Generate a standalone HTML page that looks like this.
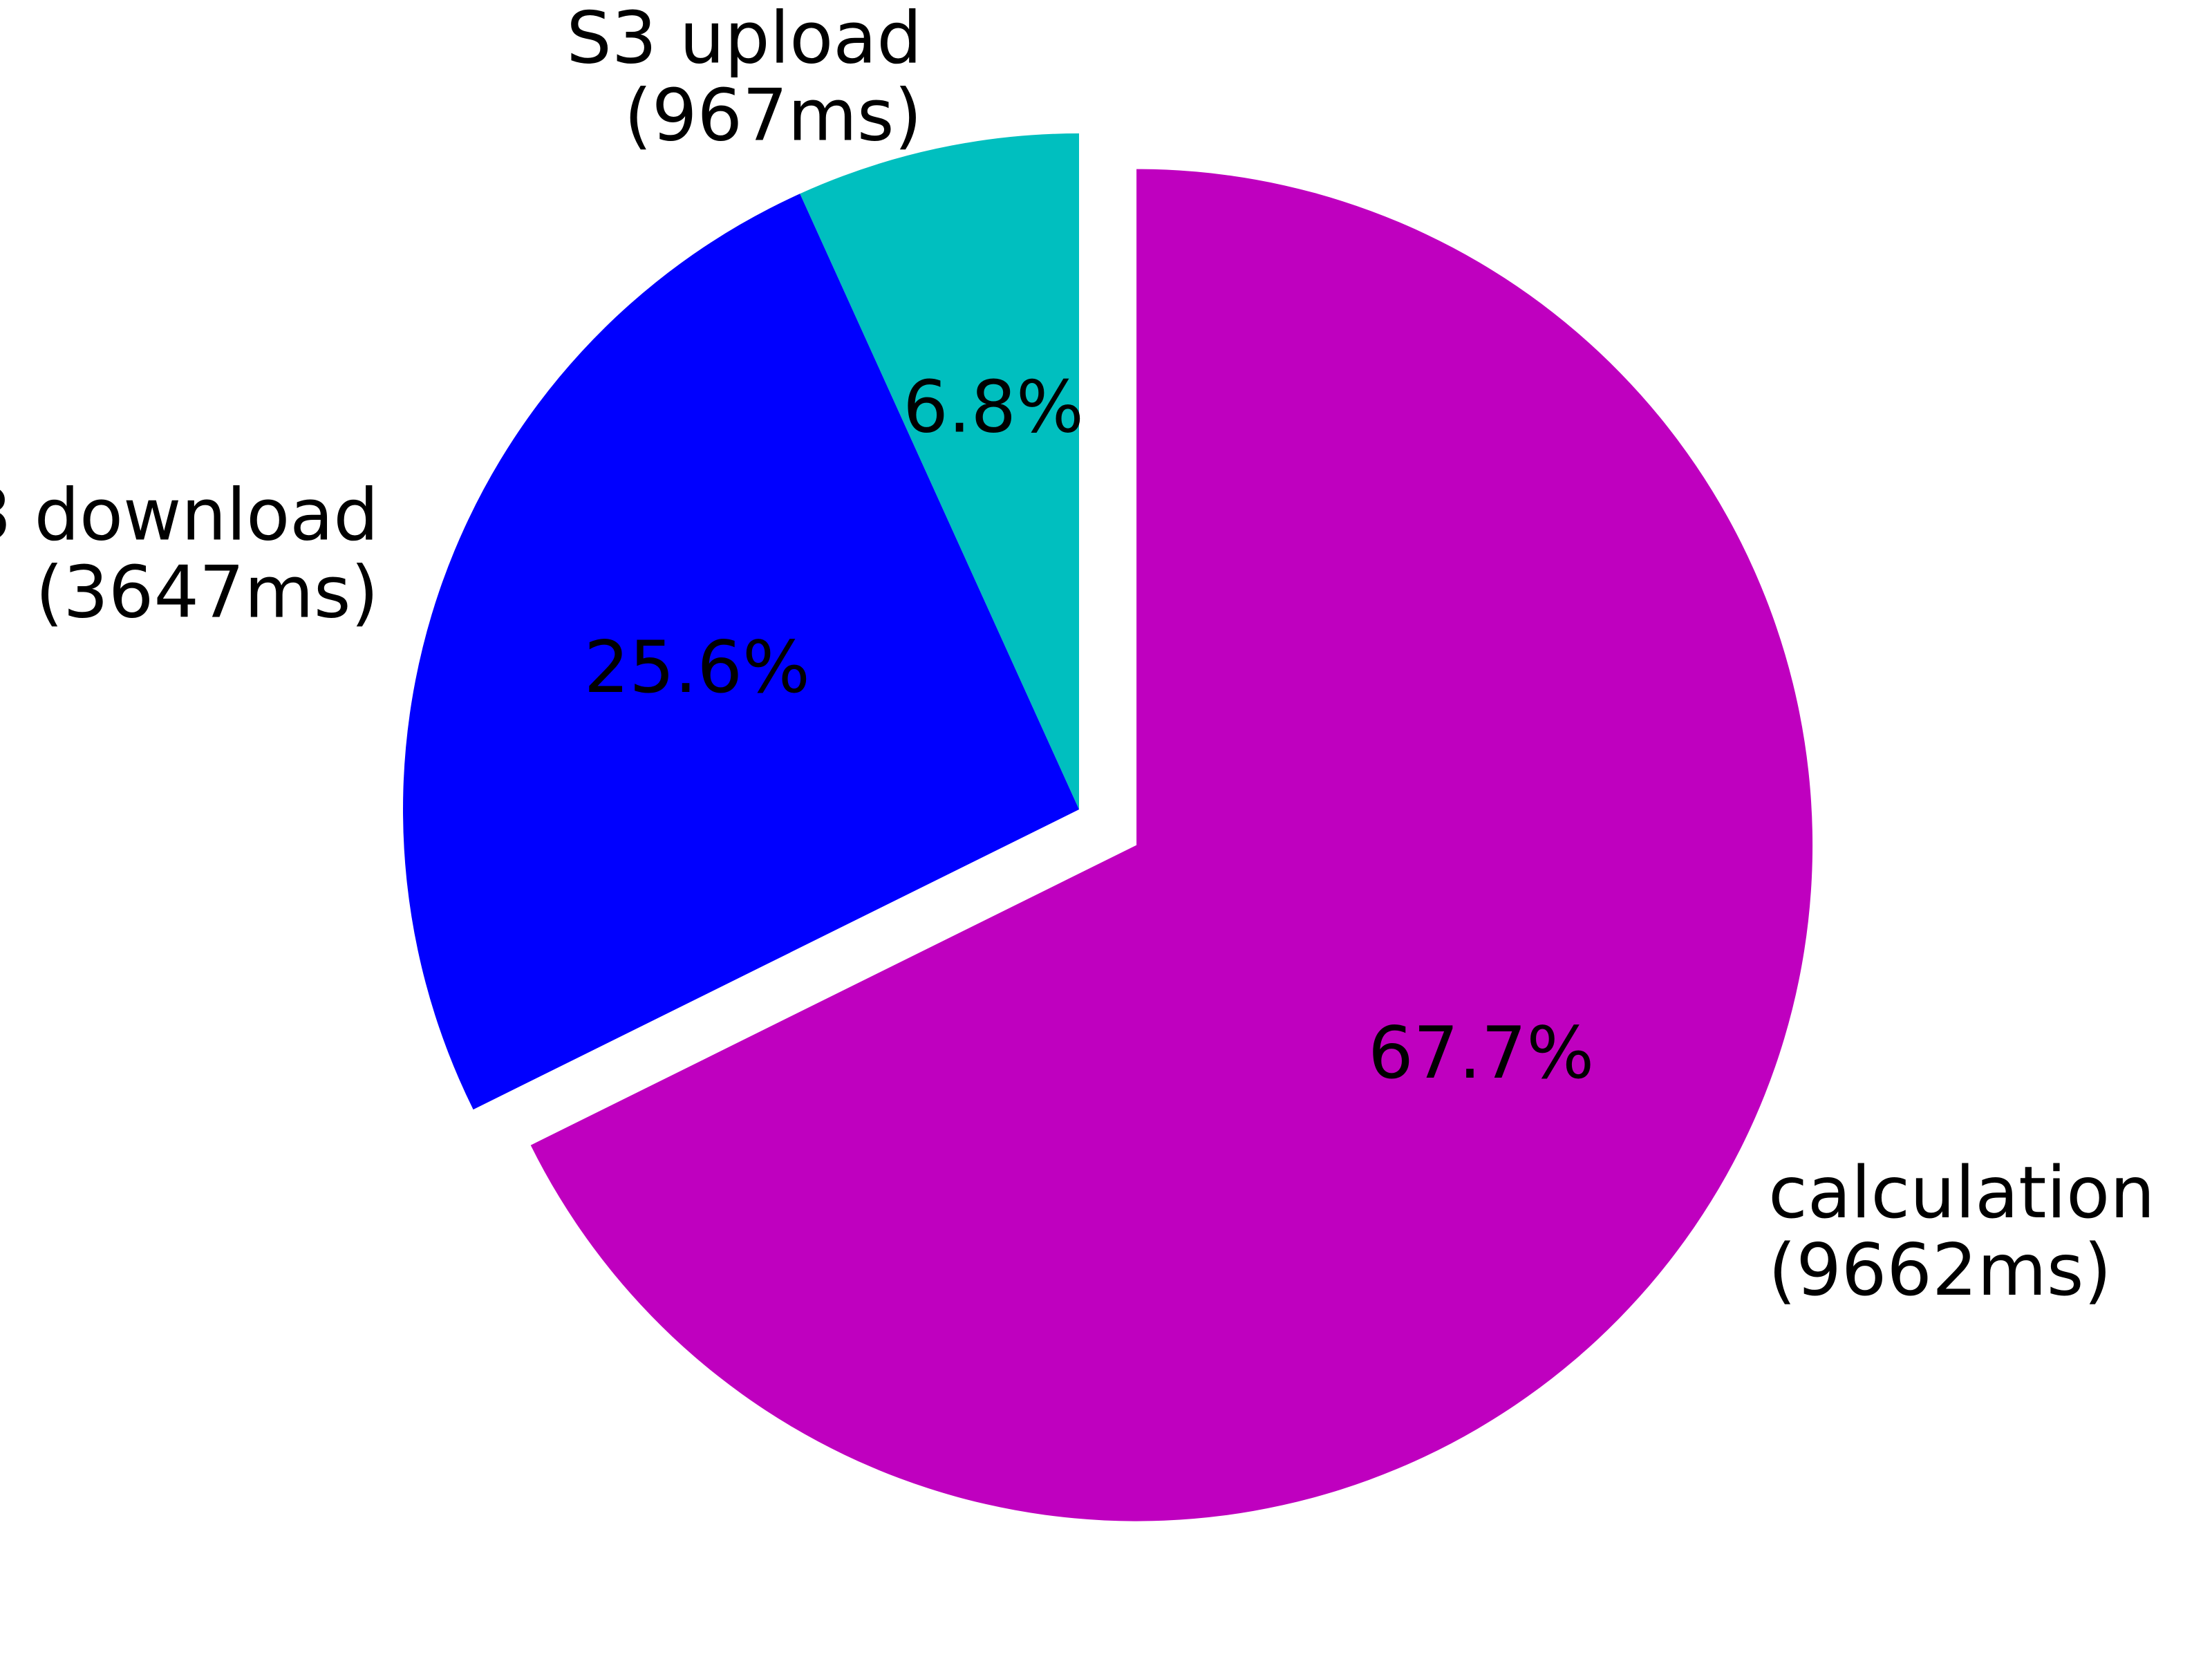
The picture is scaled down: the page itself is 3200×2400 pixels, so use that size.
<!DOCTYPE html>
<html><head><meta charset="utf-8"><style>
html,body{margin:0;padding:0;background:#fff;}
svg{display:block;}
text{font-family:"DejaVu Sans","Liberation Sans",sans-serif;fill:#000;}
</style></head><body>
<svg id="chart" width="3200" height="2400" viewBox="0 0 3200 2400" xmlns="http://www.w3.org/2000/svg"></svg>
<script>
const categories = ["S3 upload", "S3 download", "calculation"];
const values = [967, 3647, 9662];
const pctLabels = ["6.8%", "25.6%", "67.7%"];
const colors = ["#00bfbf", "#0000ff", "#bf00bf"];
const explode = [0, 0, 0.1];

const svg = document.getElementById('chart');
const NS = 'http://www.w3.org/2000/svg';
const cx = 1561, cy = 1171, R = 978, fs = 103, lh = 112, dyShift = -10;
const total = values.reduce((a, b) => a + b, 0);
let start = 90;
values.forEach((v, i) => {
  const sweep = v / total * 360;
  const end = start + sweep;
  const mid = (start + end) / 2 * Math.PI / 180;
  const ox = cx + explode[i] * R * Math.cos(mid);
  const oy = cy - explode[i] * R * Math.sin(mid);
  const a0 = start * Math.PI / 180, a1 = end * Math.PI / 180;
  const x0 = ox + R * Math.cos(a0), y0 = oy - R * Math.sin(a0);
  const x1 = ox + R * Math.cos(a1), y1 = oy - R * Math.sin(a1);
  const large = sweep > 180 ? 1 : 0;
  const p = document.createElementNS(NS, 'path');
  p.setAttribute('d', `M${ox},${oy} L${x0},${y0} A${R},${R} 0 ${large} 0 ${x1},${y1} Z`);
  p.setAttribute('fill', colors[i]);
  
  
  svg.appendChild(p);

  const lx = ox + 1.1 * R * Math.cos(mid), ly = oy - 1.1 * R * Math.sin(mid) + dyShift;
  const t = document.createElementNS(NS, 'text');
  t.setAttribute('font-size', fs);
  t.setAttribute('text-anchor', Math.cos(mid) >= 0 ? 'start' : 'end');
  
  
  const lines = [categories[i], '(' + v + 'ms)'];
  lines.forEach((ln, k) => {
    const ts = document.createElementNS(NS, 'tspan');
    ts.setAttribute('x', lx);
    ts.setAttribute('y', ly + (k - 0.5) * lh + fs * 0.36);
    ts.textContent = ln;
    t.appendChild(ts);
  });
  svg.appendChild(t);

  const px = ox + 0.6 * R * Math.cos(mid), py = oy - 0.6 * R * Math.sin(mid) + dyShift;
  const pt = document.createElementNS(NS, 'text');
  pt.setAttribute('font-size', fs);
  pt.setAttribute('text-anchor', 'middle');
  pt.setAttribute('x', px);
  pt.setAttribute('y', py + fs * 0.36);
  
  
  pt.textContent = pctLabels[i];
  svg.appendChild(pt);
  start = end;
});
</script>
</body></html>
